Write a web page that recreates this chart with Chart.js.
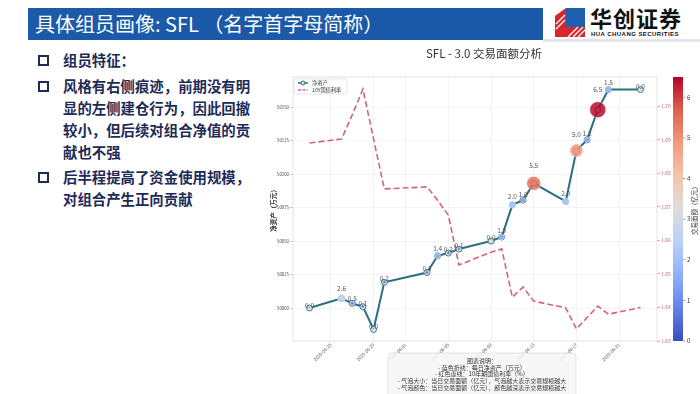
<!DOCTYPE html>
<html>
<head>
<meta charset="utf-8">
<script src="https://cdn.jsdelivr.net/npm/chart.js@4.4.1/dist/chart.umd.min.js"></script>
<style>
body{margin:0;width:700px;height:394px;overflow:hidden;background:#fff;position:relative;font-family:"Noto Sans CJK SC","Noto Sans",sans-serif}
#bar{position:absolute;left:28px;top:8px;width:515px;height:32px;background:#1b5aa9;color:#fff;font-size:20px;line-height:32px;padding-left:7px;box-sizing:border-box;white-space:nowrap}
#rule{position:absolute;left:543px;top:39px;width:157px;height:3px;background:#e4e6ea}
#logo{position:absolute;left:554px;top:6px}
.logo-cn{position:absolute;left:590px;top:3px;font-size:22px;font-weight:700;color:#111;letter-spacing:1px;line-height:28px}
.logo-en{position:absolute;left:591px;top:31px;font-size:6px;font-weight:700;color:#111;letter-spacing:.45px;line-height:7px;font-family:"Liberation Sans",sans-serif}
.pt{position:absolute;left:63px;width:200px;font-size:14.4px;line-height:22px;font-weight:700;color:#1d2b57}
.sq{position:absolute;left:38px;width:7px;height:7px;border:2px solid #1d2b57}
#cv{position:absolute;left:268px;top:40px}
</style>
</head>
<body>
<div id="bar">具体组员画像: SFL （名字首字母简称）</div>
<div id="rule"></div>
<svg id="logo" width="32" height="33" viewBox="0 0 32 33">
  <polygon points="1,10 12,2 12,31 1,31" fill="#d9262c"/>
  <polygon points="12,2 31,2 31,21 12,21" fill="#1f5fb0"/>
  <polygon points="12,21 31,21 31,31 12,31" fill="#d9262c"/>
  <g stroke="#fff" stroke-width="1.2">
    <line x1="14" y1="31" x2="24" y2="21"/><line x1="19" y1="31" x2="29" y2="21"/><line x1="24" y1="31" x2="31" y2="24"/>
    <line x1="2" y1="18" x2="11" y2="9"/><line x1="2" y1="23" x2="11" y2="14"/>
  </g>
</svg>
<div class="logo-cn">华创证券</div>
<div class="logo-en">HUA CHUANG SECURITIES</div>

<div class="sq" style="top:55px"></div>
<div class="pt" style="top:49px">组员特征：</div>
<div class="sq" style="top:81px"></div>
<div class="pt" style="top:75px">风格有右侧痕迹，前期没有明显的左侧建仓行为，因此回撤较小，但后续对组合净值的贡献也不强</div>
<div class="sq" style="top:172px"></div>
<div class="pt" style="top:166px">后半程提高了资金使用规模，对组合产生正向贡献</div>

<canvas id="cv" width="432" height="354" style="width:432px;height:354px"></canvas>

<script>
// trading days
const dates = ['2025-05-23', '2025-05-26', '2025-05-27', '2025-05-28', '2025-05-29', '2025-05-30',
    '2025-06-03', '2025-06-04', '2025-06-05', '2025-06-06', '2025-06-09', '2025-06-10',
    '2025-06-11', '2025-06-12', '2025-06-13', '2025-06-16', '2025-06-17', '2025-06-18',
    '2025-06-19', '2025-06-20', '2025-06-23'];
// 净资产 (万元)
const netAsset = [50000, 50007.2, 50003.5, 50001, 49984, 50019.2, 50026.5, 50039, 50041, 50044,
    50050, 50053, 50077, 50080.5, 50093, 50079.5, 50117.5, 50125.5, 50148, 50163, 50163];
// 交易面额 (亿元)
const tradeAmount = [0.0, 2.6, 0.5, 0.1, 0.0, 0.2, 0.4, 1.4, 0.2, 0.1, 0.0, 1.3, 2.0, 1.0,
    5.5, 2.0, 5.0, 1.2, 6.5, 1.5, 0.0];
// 10Y国债利率 (%)
const bondYield = [1.6891, 1.6903, 1.6975, 1.7052, 1.6903, 1.6754, 1.676, 1.672, 1.6676, 1.6527,
    1.6565, 1.6575, 1.6431, 1.6461, 1.6419, 1.6399, 1.6336, 1.637, 1.6404, 1.638, 1.640];

const xTickDates = ['2025-05-25', '2025-05-29', '2025-06-01', '2025-06-05', '2025-06-09',
    '2025-06-13', '2025-06-17', '2025-06-21'];
const netTicks = [50000, 50025, 50050, 50075, 50100, 50125, 50150];
const yieldTicks = [1.63, 1.64, 1.65, 1.66, 1.67, 1.68, 1.69, 1.70];
const cbTicks = [0, 1, 2, 3, 4, 5, 6];
const cbMax = 6.5;

const noteLines = ['图表说明：', '- 蓝色折线：每日净资产（万元）', '- 红色虚线：10年期国债利率（%）',
    '- 气泡大小：当日交易面额（亿元），气泡越大表示交易规模越大',
    '- 气泡颜色：当日交易面额（亿元），颜色越深表示交易规模越大'];

function dayNo(s) {
    return (Date.parse(s) - Date.parse(dates[0])) / 86400000;
}

const cw = [[59, 76, 192], [98, 130, 234], [141, 176, 254], [184, 208, 249], [221, 221, 221],
    [245, 196, 173], [244, 154, 123], [222, 96, 77], [180, 4, 38]];
function coolwarm(t, a) {
    t = Math.max(0, Math.min(1, t)) * 8;
    const i = Math.min(7, Math.floor(t)), f = t - i;
    const c = cw[i].map((v, k) => Math.round(v + (cw[i + 1][k] - v) * f));
    return 'rgba(' + c[0] + ',' + c[1] + ',' + c[2] + ',' + a + ')';
}
function bubbleR(v) {
    return v > 0 ? 1.3 + v * 1.03 : 0;
}

const FONT = '"Noto Sans CJK SC", "DejaVu Sans", sans-serif';
Chart.defaults.font.family = FONT;
const TEAL = '#2b6f80';
const RED = 'rgba(205,70,110,0.85)';

const extras = {
    id: 'extras',
    beforeDatasetsDraw(chart) {
        const {ctx, chartArea: a} = chart;
        ctx.save();
        ctx.strokeStyle = '#dcdcdc';
        ctx.lineWidth = 0.8;
        ctx.strokeRect(a.left, a.top, a.right - a.left, a.bottom - a.top);
        ctx.restore();
    },
    afterDatasetsDraw(chart) {
        const ctx = chart.ctx;
        const meta = chart.getDatasetMeta(0);
        ctx.save();
        ctx.font = '6.5px ' + FONT;
        ctx.fillStyle = '#555';
        ctx.textAlign = 'center';
        ctx.textBaseline = 'middle';
        meta.data.forEach((pt, i) => {
            ctx.fillText(tradeAmount[i].toFixed(1), pt.x, pt.y - 3 - tradeAmount[i] * 2.7);
        });
        ctx.restore();
    },
    afterDraw(chart) {
        const {ctx, chartArea: a, scales} = chart;
        ctx.save();

        // legend
        const lx = a.left + 1, ly = a.top + 2;
        ctx.fillStyle = 'rgba(255,255,255,0.9)';
        ctx.strokeStyle = '#cccccc';
        ctx.lineWidth = 0.5;
        ctx.beginPath();
        ctx.roundRect(lx, ly, 53, 15, 2);
        ctx.fill();
        ctx.stroke();
        ctx.strokeStyle = TEAL;
        ctx.lineWidth = 1.5;
        ctx.beginPath(); ctx.moveTo(lx + 4, ly + 4); ctx.lineTo(lx + 14, ly + 4); ctx.stroke();
        ctx.fillStyle = '#d5e0ea';
        ctx.lineWidth = 1;
        ctx.beginPath(); ctx.arc(lx + 9, ly + 4, 2, 0, Math.PI * 2); ctx.fill(); ctx.stroke();
        ctx.strokeStyle = RED;
        ctx.lineWidth = 1.3;
        ctx.setLineDash([3, 1.6]);
        ctx.beginPath(); ctx.moveTo(lx + 4, ly + 11); ctx.lineTo(lx + 14, ly + 11); ctx.stroke();
        ctx.setLineDash([]);
        ctx.fillStyle = '#333';
        ctx.font = '5.2px ' + FONT;
        ctx.textBaseline = 'middle';
        ctx.fillText('净资产', lx + 18, ly + 4);
        ctx.fillText('10Y国债利率', lx + 18, ly + 11);

        // colorbar
        const cb = scales.cb;
        const bx = cb.left;
        const g = ctx.createLinearGradient(0, a.bottom, 0, a.top);
        cw.forEach((c, i) => g.addColorStop(i / 8, 'rgb(' + c.join(',') + ')'));
        ctx.fillStyle = g;
        ctx.fillRect(bx, a.top, 10, a.bottom - a.top);
        ctx.strokeStyle = '#666';
        ctx.lineWidth = 0.6;
        cbTicks.forEach(v => {
            const y = cb.getPixelForValue(v);
            ctx.beginPath(); ctx.moveTo(bx + 10, y); ctx.lineTo(bx + 12.5, y); ctx.stroke();
        });
        ctx.save();
        ctx.translate(bx + 22, (a.top + a.bottom) / 2);
        ctx.rotate(-Math.PI / 2);
        ctx.fillStyle = '#333';
        ctx.font = '6.5px ' + FONT;
        ctx.textAlign = 'center';
        ctx.fillText('交易面额（亿元）', 0, 0);
        ctx.restore();

        // note box
        const nx = 120, ny = 313, nw = 188;
        ctx.fillStyle = 'rgba(246,246,246,0.88)';
        ctx.strokeStyle = '#d6d6d6';
        ctx.lineWidth = 0.6;
        ctx.beginPath();
        ctx.roundRect(nx, ny, nw, 50, 4);
        ctx.fill();
        ctx.stroke();
        ctx.fillStyle = '#333';
        ctx.font = '6px ' + FONT;
        ctx.textAlign = 'center';
        noteLines.forEach((t, i) => ctx.fillText(t, nx + nw / 2, ny + 8 + i * 6.6));
        ctx.restore();
    }
};

const pts = arr => dates.map((d, i) => ({x: dayNo(d), y: arr[i]}));

new Chart(document.getElementById('cv'), {
    type: 'line',
    data: {
        datasets: [{
            type: 'scatter',
            label: '交易面额',
            data: pts(netAsset),
            yAxisID: 'y',
            order: 0,
            pointRadius: c => bubbleR(tradeAmount[c.dataIndex]),
            pointBackgroundColor: c => coolwarm(tradeAmount[c.dataIndex] / cbMax, 0.82),
            pointBorderColor: 'rgba(255,255,255,0.7)',
            pointBorderWidth: 0.6
        }, {
            label: '净资产',
            data: pts(netAsset),
            yAxisID: 'y',
            order: 1,
            borderColor: TEAL,
            borderWidth: 2,
            tension: 0,
            pointRadius: 3,
            pointBorderWidth: 1,
            pointBorderColor: '#3f7f90',
            pointBackgroundColor: '#d5e0ea'
        }, {
            label: '10Y国债利率',
            data: pts(bondYield),
            yAxisID: 'y1',
            order: 2,
            borderColor: RED,
            borderWidth: 1.6,
            borderDash: [6, 3],
            tension: 0,
            pointRadius: 0
        }]
    },
    options: {
        responsive: false,
        devicePixelRatio: 1,
        animation: false,
        layout: {padding: 0},
        plugins: {
            legend: {display: false},
            tooltip: {enabled: false},
            title: {
                display: true,
                text: 'SFL - 3.0 交易面额分析',
                color: '#333',
                font: {size: 11.5, weight: 'normal'},
                padding: {top: 7, bottom: 16.2}
            }
        },
        scales: {
            x: {
                type: 'linear',
                min: -1.55,
                max: 32.55,
                afterBuildTicks: s => { s.ticks = xTickDates.map(d => ({value: dayNo(d)})); },
                afterFit: s => { s.height = 53; },
                ticks: {
                    callback: (v, i) => xTickDates[i],
                    autoSkip: false,
                    minRotation: 45,
                    maxRotation: 45,
                    padding: 1,
                    color: '#555',
                    font: {size: 4.5}
                },
                grid: {color: '#ececec', lineWidth: 0.6, drawTicks: false},
                border: {display: false}
            },
            y: {
                position: 'left',
                min: 49975.4,
                max: 50172.4,
                afterBuildTicks: s => { s.ticks = netTicks.map(v => ({value: v})); },
                afterFit: s => { s.width = 25; },
                ticks: {callback: v => String(v), padding: 1, color: '#444', font: {size: 4.3}},
                grid: {color: '#ececec', lineWidth: 0.6, tickLength: 3, tickColor: '#aaa'},
                border: {display: false},
                title: {display: true, text: '净资产（万元）', color: '#333', font: {size: 6.5, weight: 'bold'}, padding: 2}
            },
            y1: {
                position: 'right',
                weight: 0,
                min: 1.63,
                max: 1.7088,
                afterBuildTicks: s => { s.ticks = yieldTicks.map(v => ({value: v})); },
                afterFit: s => { s.width = 16; },
                ticks: {callback: v => v.toFixed(2), padding: 1, color: '#d0638b', font: {size: 5}},
                grid: {drawOnChartArea: false, tickLength: 3, tickColor: '#d0638b', lineWidth: 0.6},
                border: {display: false}
            },
            cb: {
                position: 'right',
                weight: 1,
                min: 0,
                max: cbMax,
                afterBuildTicks: s => { s.ticks = cbTicks.map(v => ({value: v})); },
                afterFit: s => { s.width = 27; },
                ticks: {padding: 14, color: '#333', font: {size: 6}},
                grid: {display: false, drawTicks: false},
                border: {display: false}
            }
        }
    },
    plugins: [extras]
});
</script>
</body>
</html>
